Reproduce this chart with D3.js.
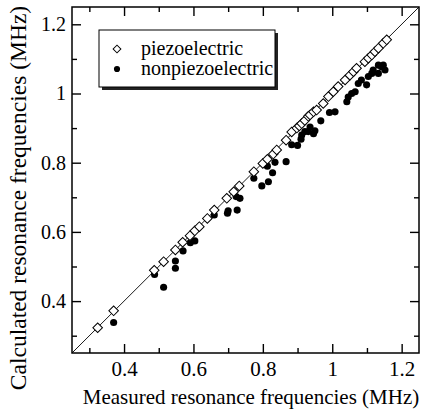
<!DOCTYPE html>
<html lang="en">
  <head>
    <meta charset="utf-8">
    <title>calculated vs measured resonance frequencies</title>
    <script src="https://cdn.jsdelivr.net/npm/d3@7/dist/d3.min.js"></script>
    <style>
      body { margin: 0; background: #fff; }
      text { font-family: 'Liberation Serif', 'Times New Roman', serif; fill: #000; }
    </style>
  </head>

  <body>
    <div id='main'></div>
  </body>

  <script type='text/javascript'>

      // piezoelectric samples (MHz)
      const measuredPiezo   = [0.324,0.370,0.487,0.514,0.548,0.569,0.590,0.604,0.617,0.640,0.660,0.696,0.716,0.732,0.774,0.800,0.813,0.830,0.840,0.867,0.883,0.898,0.905,0.912,0.921,0.931,0.936,0.946,0.955,0.974,0.989,1.003,1.017,1.037,1.051,1.061,1.070,1.094,1.104,1.114,1.123,1.133,1.147,1.157];
      const calculatedPiezo = [0.323,0.372,0.489,0.514,0.548,0.570,0.589,0.603,0.615,0.639,0.663,0.697,0.716,0.733,0.774,0.798,0.810,0.825,0.837,0.865,0.889,0.900,0.906,0.913,0.922,0.934,0.938,0.947,0.952,0.971,0.991,1.005,1.020,1.039,1.053,1.063,1.073,1.092,1.102,1.111,1.121,1.131,1.145,1.155];

      // nonpiezoelectric samples (MHz)
      const measuredNon   = [0.370,0.488,0.514,0.548,0.548,0.570,0.591,0.604,0.660,0.698,0.700,0.726,0.723,0.734,0.774,0.797,0.816,0.828,0.813,0.835,0.867,0.883,0.900,0.910,0.912,0.921,0.931,0.936,0.946,0.950,0.967,0.992,1.008,1.042,1.046,1.056,1.066,1.075,1.084,1.099,1.104,1.114,1.118,1.133,1.142,1.133,1.152,1.147];
      const calculatedNon = [0.338,0.477,0.440,0.516,0.495,0.545,0.569,0.574,0.649,0.654,0.661,0.663,0.702,0.697,0.755,0.733,0.745,0.771,0.790,0.801,0.803,0.852,0.850,0.868,0.880,0.890,0.890,0.903,0.884,0.892,0.921,0.945,0.947,0.976,0.990,1.000,1.005,1.029,1.039,1.025,1.049,1.058,1.068,1.082,1.077,1.058,1.068,1.082];

      const majorTicks  = [0.4, 0.6, 0.8, 1.0, 1.2];
      const tickLabels  = ['0.4', '0.6', '0.8', '1', '1.2'];
      const minorTicks  = [0.3, 0.5, 0.7, 0.9, 1.1];
      const legendNames = ['piezoelectric', 'nonpiezoelectric'];

      let width = 424, height = 413;
      let pLeft = 72, pRight = 419, pTop = 7, pBottom = 353;
      const serif = "'Liberation Serif', 'Times New Roman', serif";

      let svg = d3.select('#main').append('svg')
        .attr('width', width)
        .attr('height', height);

      const x = d3.scaleLinear().domain([0.25, 1.25]).range([pLeft, pRight]);
      const y = d3.scaleLinear().domain([0.25, 1.25]).range([pBottom, pTop]);

      // ticks point inward on all four sides
      function addAxis(axis, tx, ty, values, size, labels, fs) {
        const g = svg.append('g')
          .attr('transform', 'translate(' + tx + ',' + ty + ')')
          .call(axis.tickValues(values).tickSize(-size).tickPadding(labels ? 8 : 0)
            .tickFormat((d,i) => labels ? labels[i] : ''));
        g.select('.domain').remove();
        g.attr('font-family', serif).attr('font-size', fs || 20);
        g.selectAll('line').attr('stroke', '#000').attr('stroke-width', 1.4);
        g.selectAll('text').attr('fill', '#000');
        return g;
      }

      addAxis(d3.axisBottom(x), 0, pBottom, majorTicks, 9, tickLabels, 21);
      addAxis(d3.axisBottom(x), 0, pBottom, minorTicks, 5);
      addAxis(d3.axisTop(x), 0, pTop, majorTicks, 9);
      addAxis(d3.axisTop(x), 0, pTop, minorTicks, 5);
      addAxis(d3.axisLeft(y), pLeft, 0, majorTicks, 9, tickLabels, 20).selectAll('text').attr('x', -6);
      addAxis(d3.axisLeft(y), pLeft, 0, minorTicks, 5);
      addAxis(d3.axisRight(y), pRight, 0, majorTicks, 9);
      addAxis(d3.axisRight(y), pRight, 0, minorTicks, 5);

      // frame
      svg.append('rect')
        .attr('x', pLeft).attr('y', pTop)
        .attr('width', pRight - pLeft).attr('height', pBottom - pTop)
        .attr('fill', 'none').attr('stroke', '#000').attr('stroke-width', 1.5);

      // y = x reference line
      svg.append('line')
        .attr('x1', x(0.25)).attr('y1', y(0.25))
        .attr('x2', x(1.25)).attr('y2', y(1.25))
        .attr('stroke', '#000').attr('stroke-width', 0.9);

      const diamond = d3.symbol().type(d3.symbolSquare).size(46);
      const dot = d3.symbol().type(d3.symbolCircle).size(40);

      svg.append('g').selectAll('path')
        .data(measuredNon)
        .enter()
        .append('path')
        .attr('d', dot)
        .attr('transform', (d,i) => 'translate(' + x(d) + ',' + y(calculatedNon[i]) + ')')
        .attr('fill', '#000');

      svg.append('g').selectAll('path')
        .data(measuredPiezo)
        .enter()
        .append('path')
        .attr('d', diamond)
        .attr('transform', (d,i) => 'translate(' + x(d) + ',' + y(calculatedPiezo[i]) + ') rotate(45)')
        .attr('fill', '#fff')
        .attr('stroke', '#000')
        .attr('stroke-width', 1);

      // legend with drop shadow
      const lg = svg.append('g').attr('transform', 'translate(99,30)');
      lg.append('rect').attr('x', 3).attr('y', 3).attr('width', 176).attr('height', 57).attr('fill', '#222');
      lg.append('rect').attr('width', 176).attr('height', 57)
        .attr('fill', '#fff').attr('stroke', '#000').attr('stroke-width', 1);
      lg.append('path').attr('d', d3.symbol().type(d3.symbolSquare).size(30))
        .attr('transform', 'translate(18,19) rotate(45)')
        .attr('fill', '#fff').attr('stroke', '#000');
      lg.append('path').attr('d', d3.symbol().type(d3.symbolCircle).size(30))
        .attr('transform', 'translate(18,39)')
        .attr('fill', '#000');
      lg.selectAll('text.name')
        .data(legendNames)
        .enter()
        .append('text')
        .attr('class', 'name')
        .attr('x', 42)
        .attr('y', (d,i) => 25 + i * 20)
        .attr('font-size', '20px')
        .text(d => d);

      // axis titles
      svg.append('text')
        .attr('x', 251).attr('y', 404)
        .attr('text-anchor', 'middle')
        .attr('font-size', '21px')
        .text('Measured resonance frequencies (MHz)');

      svg.append('text')
        .attr('transform', 'translate(26,198) rotate(-90)')
        .attr('text-anchor', 'middle')
        .attr('font-size', '23.5px')
        .text('Calculated resonance frequencies (MHz)');

  </script>
</html>
